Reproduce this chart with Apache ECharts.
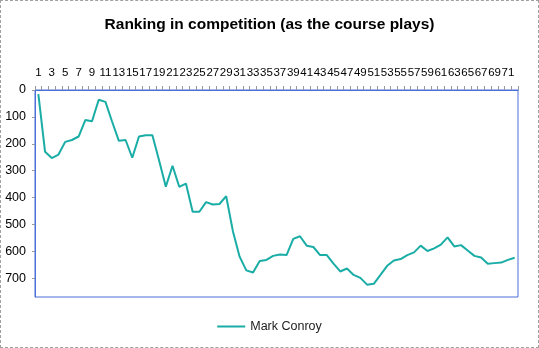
<!DOCTYPE html>
<html>
<head>
<meta charset="utf-8">
<script src="https://cdn.jsdelivr.net/npm/echarts@6/dist/echarts.min.js"></script>
<style>
html,body{margin:0;padding:0;background:#fff;}
#c{width:537px;height:346px;border:1px dashed #a0a0a0;}
</style>
</head>
<body>
<div id="c"></div>
<script>
var title = "Ranking in competition (as the course plays)";
var seriesName = "Mark Conroy";
var holes = [];
for (var h = 1; h <= 72; h++) holes.push(String(h));
var ranking = [15,230,253,240,193,186,173,112,116,36,44,118,189,186,252,173,168,168,262,360,
  282,360,348,453,453,417,426,424,395,525,620,671,679,636,632,617,612,614,554,544,
  579,584,614,614,646,675,664,688,699,724,721,688,654,634,629,614,604,579,599,589,
  575,548,582,577,597,617,623,646,644,642,632,624];
var yMin = 0, yMax = 770, yStep = 100;

var chart = echarts.init(document.getElementById('c'));
chart.setOption({
  animation: false,
  backgroundColor: '#fff',
  title: {
    text: title, left: 'center', top: 11,
    textStyle: {fontFamily: 'Liberation Sans', fontWeight: 'bold', fontSize: 15.5, color: '#000'}
  },
  legend: {
    bottom: 9, left: 'center', itemWidth: 28, itemHeight: 2,
    icon: 'rect',
    textStyle: {fontFamily: 'Liberation Sans', fontSize: 12.5, color: '#222'},
    data: [seriesName]
  },
  grid: {left: 34, right: 20, top: 89, bottom: 50, show: true, borderColor: '#4a6fd8', borderWidth: 1},
  xAxis: {
    type: 'category', position: 'top', data: holes, boundaryGap: true,
    axisLine: {lineStyle: {color: '#4a6fd8'}},
    axisTick: {show: true, interval: 0, length: 4, lineStyle: {color: '#999'}},
    axisLabel: {interval: 1, fontFamily: 'Liberation Sans', fontSize: 11.5, color: '#000', margin: 11}
  },
  yAxis: {
    type: 'value', inverse: true, min: yMin, max: yMax, interval: yStep,
    splitLine: {show: false},
    axisLine: {show: true, lineStyle: {color: '#4a6fd8'}},
    axisTick: {show: true, length: 3, lineStyle: {color: '#999'}},
    axisLabel: {showMaxLabel: false, fontFamily: 'Liberation Sans', fontSize: 12.5, color: '#000', margin: 9}
  },
  series: [{
    name: seriesName, type: 'line', data: ranking, showSymbol: false, symbol: 'none',
    lineStyle: {color: '#1aada6', width: 2}, itemStyle: {color: '#1aada6'}
  }]
});
</script>
</body>
</html>
